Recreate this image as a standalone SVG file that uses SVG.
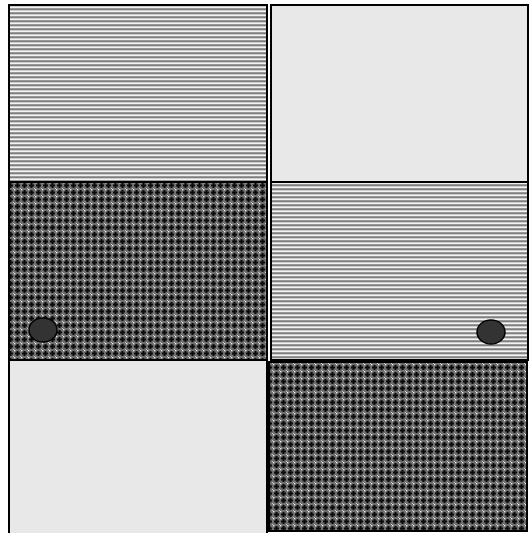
<svg xmlns="http://www.w3.org/2000/svg" width="532" height="533" viewBox="0 0 532 533">
<defs>
<pattern id="stripes" x="0" y="0" width="8" height="4" patternUnits="userSpaceOnUse">
<rect x="0" y="0" width="8" height="4" fill="#cfcfcf"/>
<rect x="0" y="0" width="8" height="1" fill="#9a9a9a"/>
<rect x="0" y="1" width="8" height="1" fill="#7e7e7e"/>
<rect x="0" y="3" width="8" height="1" fill="#f2f2f2"/>
</pattern>
<pattern id="cross" x="0" y="0" width="7" height="7" patternUnits="userSpaceOnUse">
<rect x="0" y="0" width="7" height="7" fill="#6e6e6e"/>
<rect x="1" y="2.5" width="5" height="2" fill="#0a0a0a"/>
<rect x="2.5" y="1" width="2" height="5" fill="#0a0a0a"/>
<rect x="0" y="0" width="1.3" height="1.3" fill="#f0f0f0"/>
<rect x="6" y="6" width="1" height="1" fill="#c8c8c8"/>
</pattern>
<style>
.cell{stroke:#000;stroke-width:2}
.light{fill:#e8e8e8}
.str{fill:url(#stripes)}
.crs{fill:url(#cross)}
.dot{fill:#333;stroke:#000;stroke-width:1.5}
</style>
</defs>
<g id="cell-top-left"><rect class="cell str" x="9" y="5" width="258" height="177"/></g>
<g id="cell-top-right"><rect class="cell light" x="271" y="5" width="257" height="177"/></g>
<g id="cell-mid-left"><rect class="cell crs" x="9" y="182" width="258" height="178"/></g>
<g id="cell-mid-right"><rect class="cell str" x="271" y="182" width="257" height="178"/></g>
<g id="cell-bot-left"><rect class="cell light" x="9" y="360" width="258" height="174"/></g>
<g id="cell-bot-right"><rect class="cell crs" x="269" y="362" width="258" height="169"/></g>
<g id="dot-left"><ellipse class="dot" cx="43" cy="330" rx="14" ry="12"/></g>
<g id="dot-right"><ellipse class="dot" cx="491" cy="332" rx="14" ry="12"/></g>
<g id="connectors"></g>
</svg>
